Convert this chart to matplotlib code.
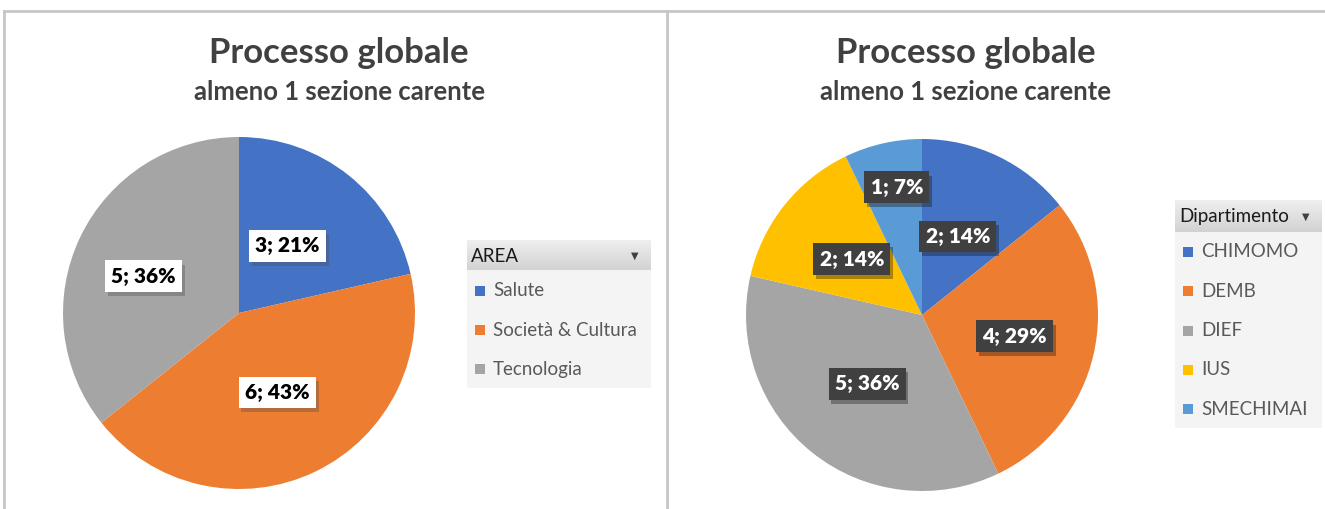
import numpy as np
import matplotlib.pyplot as plt
import matplotlib.patheffects as pe
from matplotlib.patches import Rectangle
from matplotlib.colors import LinearSegmentedColormap

plt.rcParams['font.family'] = ['Lato', 'DejaVu Sans']

# dati
area_labels = ['Salute', 'Società & Cultura', 'Tecnologia']
area_values = [3, 6, 5]
dip_labels = ['CHIMOMO', 'DEMB', 'DIEF', 'IUS', 'SMECHIMAI']
dip_values = [2, 4, 5, 2, 1]

titolo = 'Processo globale'
sottotitolo = 'almeno 1 sezione carente'

col_area = ['#4472C4', '#ED7D31', '#A5A5A5']
col_dip = ['#4472C4', '#ED7D31', '#A5A5A5', '#FFC000', '#5B9BD5']

W, H = 1325, 509
fig = plt.figure(figsize=(W / 100, H / 100), dpi=100)


def box(x, y, w, h):
    # pixel -> figure fraction
    return [x / W, 1 - (y + h) / H, w / W, h / H]


def torta(ax, valori, colori, dist, stile):
    wedges, _ = ax.pie(valori, colors=colori, startangle=90, counterclock=False,
                       radius=1, wedgeprops=dict(linewidth=0))
    tot = sum(valori)
    for w, v, d in zip(wedges, valori, dist):
        ang = np.deg2rad((w.theta1 + w.theta2) / 2)
        x, y = d[0] * np.cos(ang + d[1]), d[0] * np.sin(ang + d[1])
        s = '%d; %d%%' % (v, round(100 * v / tot))
        if stile == 'chiaro':
            fc, tc = 'white', 'black'
        else:
            fc, tc = '#404040', 'white'
        t = ax.text(x, y, s, ha='center', va='center', fontsize=15,
                    fontweight='heavy', color=tc,
                    bbox=dict(boxstyle='square,pad=0.3', fc=fc, ec='none'))
        t.get_bbox_patch().set_path_effects(
            [pe.SimplePatchShadow(offset=(2, -3), alpha=0.35), pe.Normal()])
    ax.set_xlim(-1, 1)
    ax.set_ylim(-1, 1)
    ax.set_aspect('equal')
    ax.axis('off')


def legenda(x, y, w, h, hh, titolo_leg, etichette, colori, step, first):
    ax = fig.add_axes(box(x, y, w, h))
    ax.axis('off')
    ax.add_patch(Rectangle((0, 0), w, h, fc='#f4f4f4', ec='none'))
    grad = np.linspace(0, 1, 50).reshape(-1, 1)
    cm = LinearSegmentedColormap.from_list('g', ['#efefef', '#d2d2d2'])
    ax.imshow(grad, extent=(0, w, hh, 0), cmap=cm, aspect='auto', zorder=1)
    ax.text(4, hh / 2 + 1, titolo_leg, ha='left', va='center', fontsize=13.5,
            color='#1a1a1a', zorder=2)
    ax.text(w - 16, hh / 2 + 1, '▼', ha='center', va='center', fontsize=7,
            color='#404040', zorder=2, family='DejaVu Sans')
    for i, (lab, c) in enumerate(zip(etichette, colori)):
        yy = first + i * step
        ax.add_patch(Rectangle((8, yy - 5), 10, 10, fc=c, ec='none', zorder=2))
        ax.text(26, yy, lab, ha='left', va='center', fontsize=13.5,
                color='#595959', zorder=2)
    ax.set_xlim(0, w)
    ax.set_ylim(h, 0)


# cornice
frame = fig.add_axes([0, 0, 1, 1])
frame.set_xlim(0, W)
frame.set_ylim(H, 0)
frame.axis('off')
frame.plot([4, W], [11, 11], color='#c6c6c6', lw=2)
frame.plot([4, 4], [11, H], color='#c6c6c6', lw=2)
frame.plot([667, 667], [11, H], color='#c6c6c6', lw=2)

for cx in [339, 966]:
    fig.text(cx / W, 1 - 53 / H, titolo, ha='center', va='center', fontsize=25,
             fontweight='bold', color='#404040')
    fig.text(cx / W, 1 - 92 / H, sottotitolo, ha='center', va='center', fontsize=18.5,
             fontweight='bold', color='#404040')

ax1 = fig.add_axes(box(63, 137, 352, 352))
torta(ax1, area_values, col_area, [(0.47, 0.05), (0.5, 0), (0.58, 0.08)], 'chiaro')

ax2 = fig.add_axes(box(746, 139, 352, 352))
torta(ax2, dip_values, col_dip,
      [(0.49, 0.02), (0.54, 0), (0.5, 0), (0.51, 0), (0.74, -0.03)], 'scuro')

legenda(467, 240, 184, 148, 30, 'AREA', area_labels, col_area, 39, 51)
legenda(1175, 200, 147, 228, 32, 'Dipartimento', dip_labels, col_dip, 39.3, 52)

fig.savefig('out.png', dpi=100)
